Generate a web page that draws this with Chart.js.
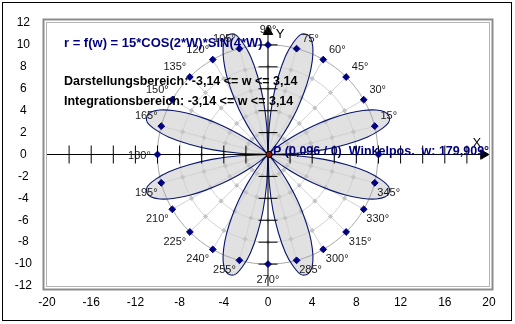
<!DOCTYPE html>
<html><head><meta charset="utf-8">
<script src="https://cdn.jsdelivr.net/npm/chart.js@4/dist/chart.umd.min.js"></script>
<style>html,body{margin:0;padding:0;background:#fff}canvas{display:block}</style>
</head><body>
<canvas id="c" width="515" height="324"></canvas>
<script>
// ---- data ----
const xTickValues = [-20,-16,-12,-8,-4,0,4,8,12,16,20];
const yTickValues = [-12,-10,-8,-6,-4,-2,0,2,4,6,8,10,12];
const xAxisMarks = [-18,-16,-14,-12,-10,-8,-6,-4,-2,2,4,6,8,10,12,14,16,18];
const yAxisMarks = [-10,-8,-6,-4,-2,2,4,6,8,10];
const roseStepDeg = 2.5;
const roseRadii = [
 0,2.6,5.1,7.2,9.1,10.4,11.3,11.5,11.3,10.6,9.5,8.1,6.5,4.9,3.3,1.9,0.9,0.2,
 0,0.2,0.9,1.9,3.3,4.9,6.5,8.1,9.5,10.6,11.3,11.5,11.3,10.4,9.1,7.2,5.1,2.6,
 0,2.6,5.1,7.2,9.1,10.4,11.3,11.5,11.3,10.6,9.5,8.1,6.5,4.9,3.3,1.9,0.9,0.2,
 0,0.2,0.9,1.9,3.3,4.9,6.5,8.1,9.5,10.6,11.3,11.5,11.3,10.4,9.1,7.2,5.1,2.6,
 0,2.6,5.1,7.2,9.1,10.4,11.3,11.5,11.3,10.6,9.5,8.1,6.5,4.9,3.3,1.9,0.9,0.2,
 0,0.2,0.9,1.9,3.3,4.9,6.5,8.1,9.5,10.6,11.3,11.5,11.3,10.4,9.1,7.2,5.1,2.6,
 0,2.6,5.1,7.2,9.1,10.4,11.3,11.5,11.3,10.6,9.5,8.1,6.5,4.9,3.3,1.9,0.9,0.2,
 0,0.2,0.9,1.9,3.3,4.9,6.5,8.1,9.5,10.6,11.3,11.5,11.3,10.4,9.1,7.2,5.1,2.6,
 0];
const gridAngles = [0,15,30,45,60,75,90,105,120,135,150,165,180,195,210,225,240,255,270,285,300,315,330,345];
const gridRadii = [2,4,6,8];
const outerRadius = 10;
const angleLabels = ['','15°','30°','45°','60°','75°','90°','105°','120°','135°','150°','165°','180°','195°','210°','225°','240°','255°','270°','285°','300°','315°','330°','345°'];
const pointP = {x:0.096, y:0};
const arrowX = {x:19.5, y:0};
const arrowY = {x:0, y:11.2};
const titleText = 'r = f(w) = 15*COS(2*W)*SIN(4*W)';
const rangeText1 = 'Darstellungsbereich: -3,14 <= w <= 3,14';
const rangeText2 = 'Integrationsbereich: -3,14 <= w <= 3,14';
const posText = 'P (0,096 / 0)  Winkelpos.  w: 179,909°';

// ---- helpers (polar -> cartesian) ----
const D2R = Math.PI/180;
const pol = (deg, r) => ({x: r*Math.cos(deg*D2R), y: r*Math.sin(deg*D2R)});
const rosePts = roseRadii.map((r,i) => pol(i*roseStepDeg, r));
const circlePts = r => gridAngles.concat([360]).map(a => pol(a, r));
const grayDots = [];
gridAngles.forEach(a => gridRadii.forEach(r => grayDots.push(pol(a, r))));
const blueDots = gridAngles.map(a => pol(a, outerRadius));

const FONT = '"Liberation Sans", Arial, sans-serif';
const base = {showLine:false, clip:false, pointHoverRadius:0};

const datasets = [
  {...base, data:[pointP], pointStyle:'circle', pointRadius:3.2, pointBackgroundColor:'#7a1a10', pointBorderColor:'#000', pointBorderWidth:1},
  {...base, data:blueDots, pointStyle:'rectRot', pointRadius:3.4, pointBackgroundColor:'#000080', pointBorderColor:'#000080', pointBorderWidth:1},
  {...base, data:xAxisMarks.map(v=>({x:v,y:0})), pointStyle:'line', pointRotation:90, pointRadius:9, pointBorderColor:'#000', pointBorderWidth:1},
  {...base, data:yAxisMarks.map(v=>({x:0,y:v})), pointStyle:'line', pointRotation:0, pointRadius:9.5, pointBorderColor:'#000', pointBorderWidth:1},
  {...base, data:[arrowX], pointStyle:'triangle', pointRotation:90, pointRadius:5.5, pointBackgroundColor:'#000', pointBorderColor:'#000', pointBorderWidth:1},
  {...base, data:[arrowY], pointStyle:'triangle', pointRotation:0, pointRadius:5.5, pointBackgroundColor:'#000', pointBorderColor:'#000', pointBorderWidth:1},
  {...base, showLine:true, data:[{x:-20,y:0},{x:19.5,y:0}], borderColor:'#000', borderWidth:1, pointRadius:0},
  {...base, showLine:true, data:[{x:0,y:-12},{x:0,y:11.2}], borderColor:'#000', borderWidth:1, pointRadius:0},
  {...base, showLine:true, data:rosePts, borderColor:'#0a1670', borderWidth:1.1, pointRadius:0, tension:0.3, fill:'shape', backgroundColor:'#e1e1e1'},
  {...base, data:grayDots, pointStyle:'rectRot', pointRadius:2.6, pointBackgroundColor:'#c4c4c4', pointBorderColor:'#c4c4c4', pointBorderWidth:0},
  {...base, showLine:true, data:circlePts(outerRadius), borderColor:'#a8a8a8', borderWidth:1, pointRadius:0, tension:0.36},
  ...gridRadii.slice().reverse().map(r => ({...base, showLine:true, data:circlePts(r), borderColor:'#d2d2d2', borderWidth:1, pointRadius:0, tension:0.36})),
  ...gridAngles.map(a => ({...base, showLine:true, data:[{x:0,y:0}, pol(a, outerRadius)], borderColor:'#d2d2d2', borderWidth:1, pointRadius:0}))
];

const overlay = {
  id:'overlay',
  beforeDraw(chart){
    const {ctx, chartArea:a} = chart;
    ctx.save();
    ctx.fillStyle='#fff'; ctx.fillRect(0,0,chart.width,chart.height);
    ctx.strokeStyle='#000'; ctx.lineWidth=1;
    ctx.strokeRect(2.5,2.5,509,318);
    ctx.strokeStyle='#8c8c8c'; ctx.lineWidth=2;
    ctx.strokeRect(a.left-3.5, a.top-3.5, a.right-a.left+7, a.bottom-a.top+7);
    ctx.strokeStyle='#b4b4b4'; ctx.lineWidth=1;
    ctx.strokeRect(a.left-0.5, a.top-0.5, a.right-a.left+1, a.bottom-a.top+1);
    ctx.restore();
  },
  afterDatasetsDraw(chart){
    const {ctx, scales:{x, y}, chartArea:a} = chart;
    ctx.save();
    ctx.font = '11px ' + FONT; ctx.fillStyle='#1a1a1a';
    ctx.textAlign='center'; ctx.textBaseline='middle';
    gridAngles.forEach((ang,i) => {
      const t = angleLabels[i]; if (!t) return;
      const p = pol(ang, outerRadius);
      const px = x.getPixelForValue(p.x), py = y.getPixelForValue(p.y);
      const c = Math.cos(ang*D2R), s = Math.sin(ang*D2R);
      let dx = Math.abs(c) < 0.1 ? 0 : (c > 0 ? 14 : -15);
      let dy = Math.abs(s) < 0.1 ? 1 : (s > 0 ? -10 : 10);
      if (ang === 90) dy = -15; if (ang === 270) dy = 16; if (ang === 180) dx = -18;
      ctx.fillText(t, px+dx, py+dy);
    });
    ctx.font = '13px ' + FONT; ctx.fillStyle='#000';
    ctx.fillText('X', x.getPixelForValue(18.9), y.getPixelForValue(1.0));
    ctx.fillText('Y', x.getPixelForValue(1.1), y.getPixelForValue(11.0));
    ctx.textAlign='left';
    ctx.font = 'bold 13px ' + FONT;
    ctx.fillStyle='#000080'; ctx.fillText(titleText, 64, 43);
    ctx.font = 'bold 12.5px ' + FONT;
    ctx.fillStyle='#000'; ctx.fillText(rangeText1, 64, 82);
    ctx.fillText(rangeText2, 64, 102);
    ctx.beginPath(); ctx.rect(a.left, a.top, a.right-a.left+1, a.bottom-a.top); ctx.clip();
    ctx.fillStyle='#000080'; ctx.fillText(posText, 273, 152);
    ctx.restore();
  }
};

new Chart(document.getElementById('c'), {
  type:'scatter',
  data:{datasets},
  options:{
    responsive:false, devicePixelRatio:1, animation:false,
    layout:{padding:{left:0, right:26, top:23, bottom:0}},
    plugins:{legend:{display:false}, tooltip:{enabled:false}, filler:{drawTime:'beforeDatasetsDraw'}},
    scales:{
      x:{type:'linear', min:-20, max:20,
         afterBuildTicks:s=>{s.ticks = xTickValues.map(v=>({value:v}));},
         afterFit:s=>{s.height = 38;},
         grid:{display:false, drawTicks:false}, border:{display:false},
         ticks:{padding:9, color:'#000', font:{family:FONT, size:12}, maxRotation:0, autoSkip:false}},
      y:{type:'linear', min:-12, max:12,
         afterBuildTicks:s=>{s.ticks = yTickValues.map(v=>({value:v}));},
         afterFit:s=>{s.width = 47;},
         grid:{display:false, drawTicks:false}, border:{display:false},
         ticks:{padding:15, crossAlign:'center', color:'#000', font:{family:FONT, size:12}, autoSkip:false}}
    }
  },
  plugins:[overlay]
});
</script>
</body></html>
